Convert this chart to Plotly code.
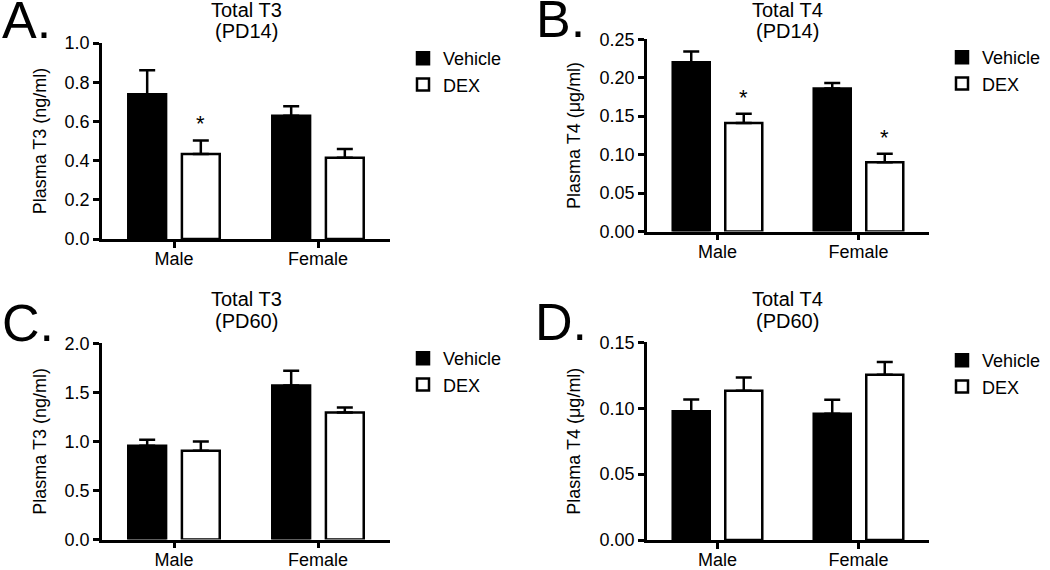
import plotly.graph_objects as go
from plotly.subplots import make_subplots

sexes = ["Male", "Female"]

# Total T3 at PD14 (ng/ml)
t3_pd14_vehicle = [0.738, 0.629]
t3_pd14_vehicle_sem = [0.123, 0.048]
t3_pd14_dex = [0.434, 0.415]
t3_pd14_dex_sem = [0.069, 0.044]
t3_pd14_dex_signif = [True, False]

# Total T4 at PD14 (ug/ml)
t4_pd14_vehicle = [0.220, 0.186]
t4_pd14_vehicle_sem = [0.014, 0.007]
t4_pd14_dex = [0.141, 0.090]
t4_pd14_dex_sem = [0.012, 0.011]
t4_pd14_dex_signif = [True, True]

# Total T3 at PD60 (ng/ml)
t3_pd60_vehicle = [0.956, 1.569]
t3_pd60_vehicle_sem = [0.061, 0.150]
t3_pd60_dex = [0.905, 1.294]
t3_pd60_dex_sem = [0.095, 0.051]
t3_pd60_dex_signif = [False, False]

# Total T4 at PD60 (ug/ml)
t4_pd60_vehicle = [0.0976, 0.0957]
t4_pd60_vehicle_sem = [0.0090, 0.0108]
t4_pd60_dex = [0.1133, 0.1253]
t4_pd60_dex_sem = [0.0100, 0.0097]
t4_pd60_dex_signif = [False, False]

panel_letters = ["A.", "B.", "C.", "D."]
panel_titles = ["Total T3", "Total T4", "Total T3", "Total T4"]
panel_ages = ["(PD14)", "(PD14)", "(PD60)", "(PD60)"]
y_titles = ["Plasma T3 (ng/ml)", "Plasma T4 (μg/ml)", "Plasma T3 (ng/ml)", "Plasma T4 (μg/ml)"]
y_max = [1.0, 0.25, 2.0, 0.15]
y_step = [0.2, 0.05, 0.5, 0.05]
y_format = [".1f", ".2f", ".1f", ".2f"]

panels = [
    (t3_pd14_vehicle, t3_pd14_vehicle_sem, t3_pd14_dex, t3_pd14_dex_sem, t3_pd14_dex_signif),
    (t4_pd14_vehicle, t4_pd14_vehicle_sem, t4_pd14_dex, t4_pd14_dex_sem, t4_pd14_dex_signif),
    (t3_pd60_vehicle, t3_pd60_vehicle_sem, t3_pd60_dex, t3_pd60_dex_sem, t3_pd60_dex_signif),
    (t4_pd60_vehicle, t4_pd60_vehicle_sem, t4_pd60_dex, t4_pd60_dex_sem, t4_pd60_dex_signif),
]

W, H = 1050, 570
FONT = "Liberation Sans, Arial, Helvetica, sans-serif"
BAR_GAP = 0.255
GROUP_GAP = 0.295
dex_shift = (1 - BAR_GAP) / 4


def px(x):
    return x / W


def py(y):
    return 1 - y / H


# plot areas in pixels: (left, right, top, bottom)
boxes = [(102, 390, 43, 239), (647, 929, 39.3, 231.5), (102, 390, 343.3, 539.5), (647, 929, 342.3, 540)]
x_range = [-0.5, 1.5]
title_cx = [246, 787, 246, 787]
title_cy = [(10, 30.5), (10, 30.5), (299, 320.5), (299, 320.5)]
letter_pos = [(0, 20), (534, 19), (0, 323), (533, 322)]
legend_pos = [(403, 40), (942, 39), (403, 340), (942, 342)]
y_standoff = [14, 15, 14, 15]

fig = make_subplots(rows=2, cols=2)
annotations = []

for k, (veh, veh_err, dex, dex_err, signif) in enumerate(panels):
    row, col = k // 2 + 1, k % 2 + 1
    leg = "legend" if k == 0 else f"legend{k + 1}"
    for name, vals, errs, fill in (("Vehicle", veh, veh_err, "black"), ("DEX", dex, dex_err, "white")):
        fig.add_trace(
            go.Bar(
                x=sexes,
                y=vals,
                name=name,
                legend=leg,
                marker=dict(color=fill, line=dict(color="black", width=2.5)),
                error_y=dict(
                    type="data",
                    symmetric=False,
                    array=errs,
                    arrayminus=[0] * len(errs),
                    color="black",
                    thickness=2.5,
                    width=8,
                ),
                hoverinfo="x+y+name",
            ),
            row=row,
            col=col,
        )

    sfx = "" if k == 0 else str(k + 1)
    for i, star in enumerate(signif):
        if star:
            annotations.append(dict(
                x=i + dex_shift, y=dex[i] + dex_err[i], xref=f"x{sfx}", yref=f"y{sfx}",
                text="*", showarrow=False, yanchor="bottom", yshift=2,
                font=dict(size=22, color="black", family=FONT),
            ))

    left, right, top, bottom = boxes[k]
    fig.update_xaxes(
        domain=[px(left), px(right)], range=x_range, automargin=False,
        showline=True, linecolor="black", linewidth=2.5,
        ticks="outside", ticklen=6, tickwidth=2.5, tickcolor="black",
        ticklabelstandoff=-4,
        tickfont=dict(size=18, color="black", family=FONT),
        showgrid=False, zeroline=False, fixedrange=True,
        row=row, col=col,
    )
    fig.update_yaxes(
        domain=[py(bottom), py(top)], range=[0, y_max[k]], automargin=False,
        tick0=0, dtick=y_step[k], tickformat=y_format[k],
        showline=True, linecolor="black", linewidth=2.5,
        ticks="outside", ticklen=6, tickwidth=2.5, tickcolor="black",
        tickfont=dict(size=18, color="black", family=FONT),
        title=dict(text=y_titles[k], font=dict(size=18, color="black", family=FONT), standoff=y_standoff[k]),
        showgrid=False, zeroline=False, fixedrange=True,
        row=row, col=col,
    )

    for text, cy in zip((panel_titles[k], panel_ages[k]), title_cy[k]):
        annotations.append(dict(
            x=px(title_cx[k]), y=py(cy), xref="paper", yref="paper",
            text=text, showarrow=False, xanchor="center", yanchor="middle",
            font=dict(size=20, color="black", family=FONT),
        ))
    lx, ly = letter_pos[k]
    annotations.append(dict(
        x=px(lx), y=py(ly), xref="paper", yref="paper",
        text=panel_letters[k], showarrow=False, xanchor="left", yanchor="middle",
        font=dict(size=52, color="black", family=FONT),
    ))

legend_style = dict(
    xanchor="left", yanchor="top", bgcolor="rgba(0,0,0,0)",
    font=dict(size=18, color="black", family=FONT), tracegroupgap=0,
)
legends = {}
for k, (lx, ly) in enumerate(legend_pos):
    key = "legend" if k == 0 else f"legend{k + 1}"
    legends[key] = dict(x=px(lx), y=py(ly), **legend_style)

fig.update_layout(
    width=W, height=H,
    margin=dict(l=0, r=0, t=0, b=0, autoexpand=False),
    barmode="group", bargap=BAR_GAP, bargroupgap=GROUP_GAP,
    plot_bgcolor="white", paper_bgcolor="white",
    font=dict(family=FONT, color="black"),
    annotations=annotations,
    showlegend=True,
    **legends,
)

# the page's default body margin would push the figure 8px off the window
fig.write_html(
    "out.html",
    config={"displayModeBar": False},
    post_script="document.body.style.margin = '0';",
)
